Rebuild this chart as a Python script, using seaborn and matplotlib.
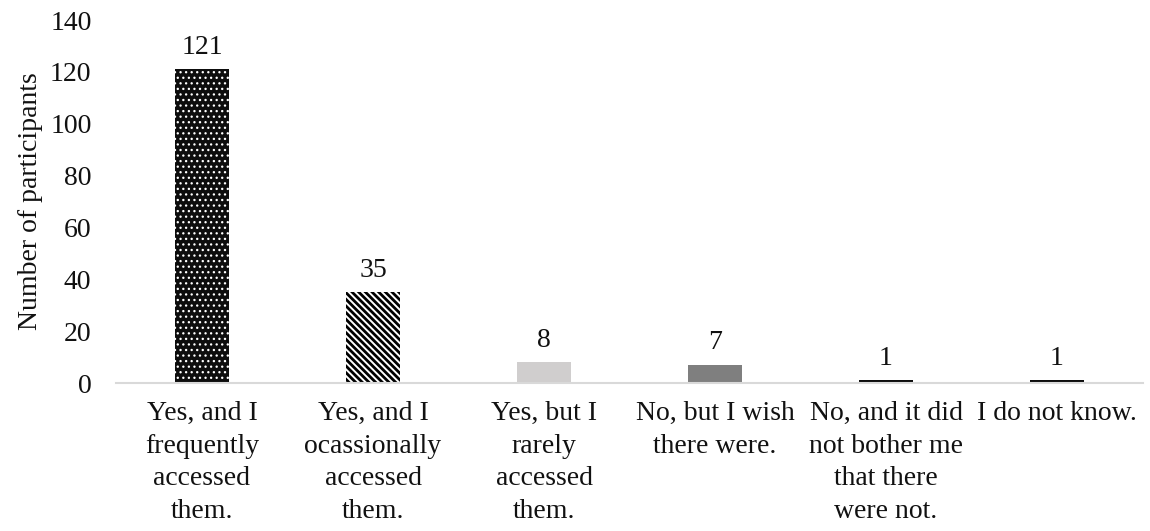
import matplotlib
matplotlib.use("Agg")
import matplotlib.pyplot as plt
import seaborn as sns
import pandas as pd

categories = [
    "Yes, and I\nfrequently\naccessed\nthem.",
    "Yes, and I\nocassionally\naccessed\nthem.",
    "Yes, but I\nrarely\naccessed\nthem.",
    "No, but I wish\nthere were.",
    "No, and it did\nnot bother me\nthat there\nwere not.",
    "I do not know.",
]
participants = [121, 35, 8, 7, 1, 1]
y_ticks = [0, 20, 40, 60, 80, 100, 120, 140]

face_colors = ["#0d0d0d", "#ffffff", "#d0cece", "#7f7f7f", "#0d0d0d", "#0d0d0d"]
hatches = ["...", "\\\\\\\\\\", "", "", "", ""]
hatch_colors = ["#ffffff", "#000000", None, None, None, None]
hatch_widths = [0.9, 2.0, None, None, None, None]

sns.set_style("white")
plt.rcParams["font.family"] = ["Liberation Serif", "DejaVu Serif"]
plt.rcParams["hatch.linewidth"] = 2.0

df = pd.DataFrame({"category": categories, "count": participants})

fig = plt.figure(figsize=(11.5, 5.31), dpi=100)
ax = fig.add_axes([0.1013, 0.2787, 0.8922, 0.6836])

sns.barplot(data=df, x="category", y="count", hue="category",
            palette=face_colors, width=0.316, legend=False, ax=ax,
            saturation=1)

for patch, h, hc, hw, fc in zip(ax.patches, hatches, hatch_colors,
                                hatch_widths, face_colors):
    patch.set_facecolor(fc)
    patch.set_linewidth(0)
    if h:
        patch.set_hatch(h)
        patch.set_edgecolor(hc)
        try:
            patch.set_hatch_linewidth(hw)
        except AttributeError:
            pass

for i, v in enumerate(participants):
    ax.annotate(str(v), (i, v), xytext=(0, 7), textcoords="offset points",
                ha="center", va="bottom", fontsize=20, color="#111111")

ax.set_ylim(0, 140)
ax.set_xlim(-0.5, len(categories) - 0.5)
ax.set_yticks(y_ticks)
ax.set_yticklabels([str(t) for t in y_ticks], fontsize=20, color="#111111")
ax.tick_params(axis="y", length=0, pad=18)
ax.tick_params(axis="x", length=0, pad=13, labelsize=20, labelcolor="#111111")
for lbl in ax.get_xticklabels():
    lbl.set_linespacing(1.4)
ax.set_xlabel("")
ax.set_ylabel("Number of participants", fontsize=20, color="#111111", labelpad=5)

for side in ["top", "right", "left"]:
    ax.spines[side].set_visible(False)
ax.spines["bottom"].set_color("#d9d9d9")
ax.spines["bottom"].set_linewidth(1.5)
ax.grid(False)

fig.savefig("out.png", dpi=100)
